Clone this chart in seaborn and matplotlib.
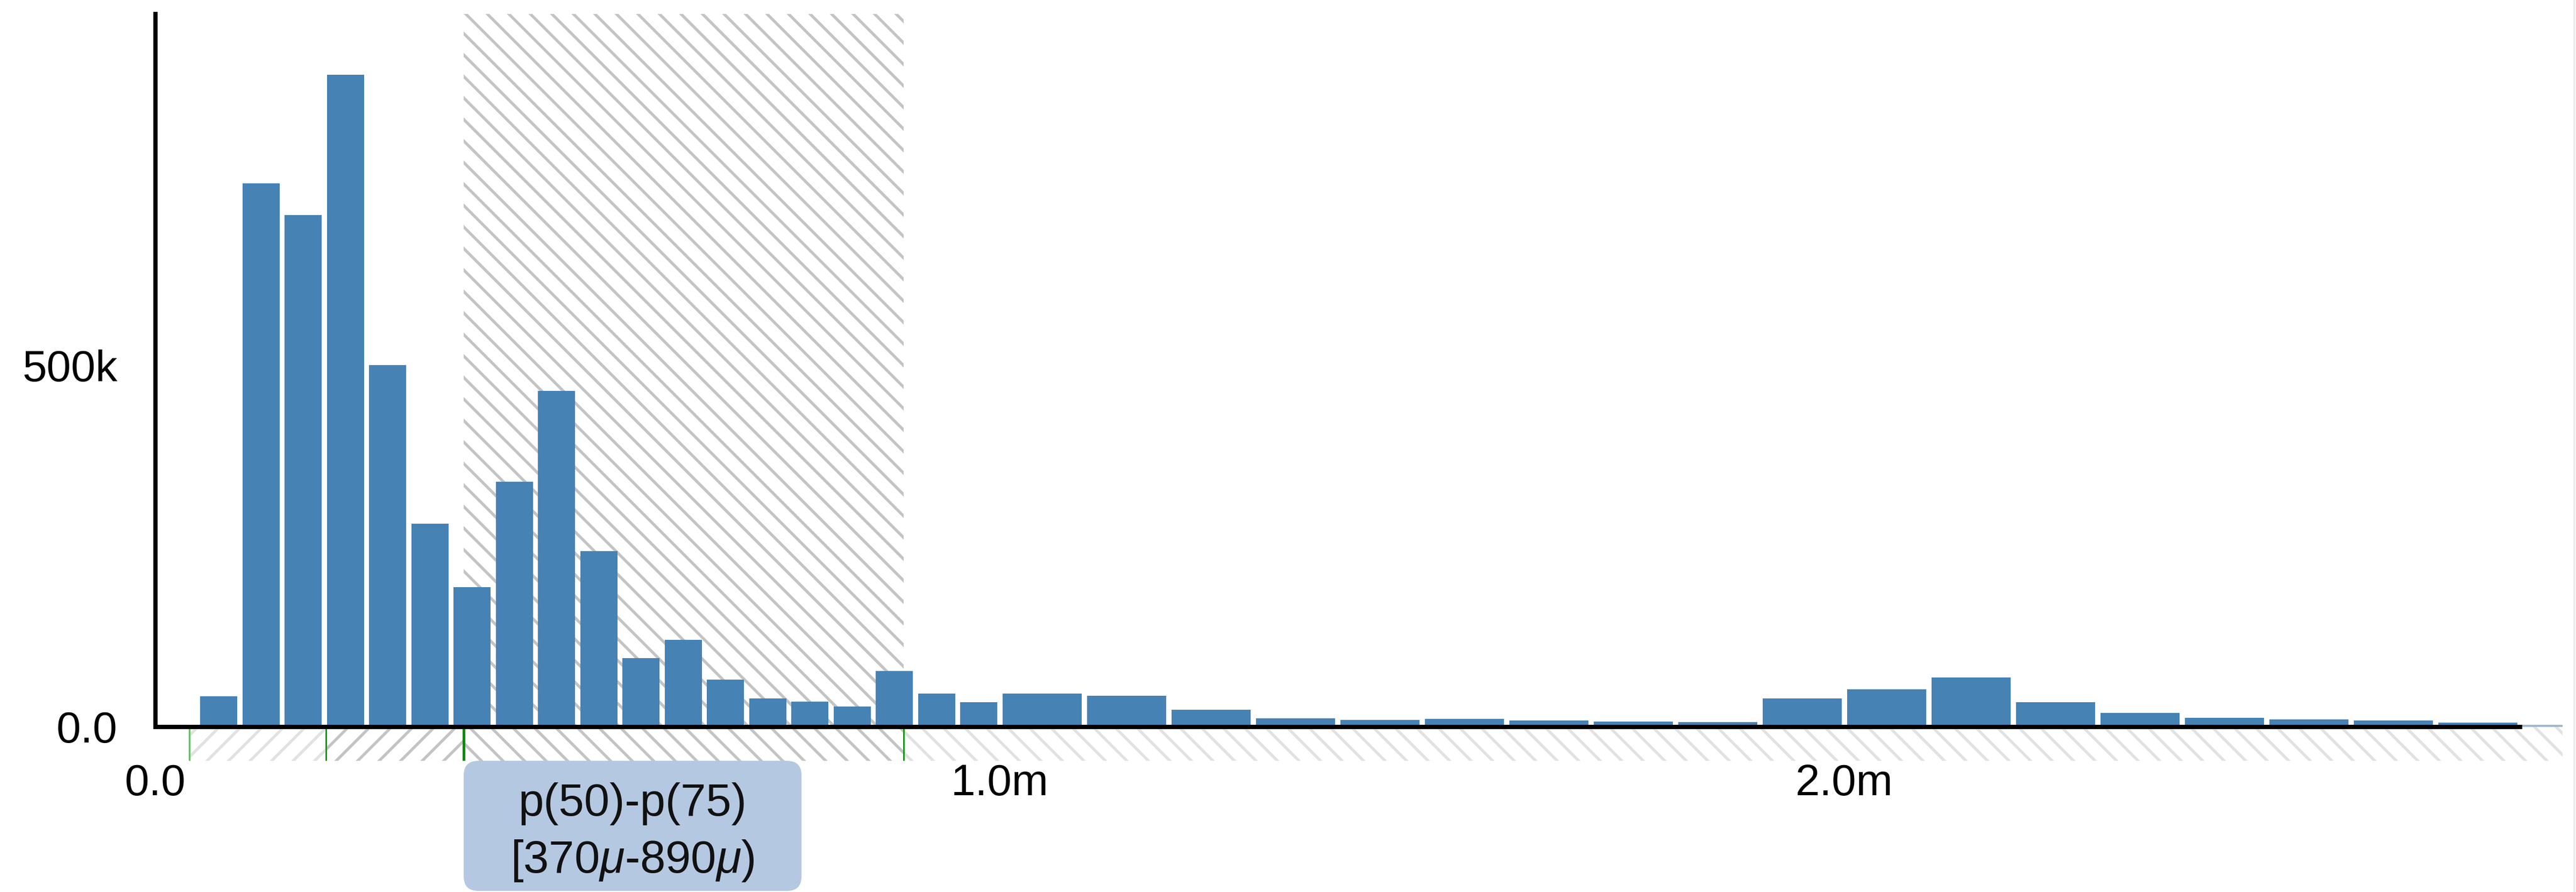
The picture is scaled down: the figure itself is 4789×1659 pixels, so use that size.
import numpy as np
import pandas as pd
import matplotlib
matplotlib.use("Agg")
import matplotlib.pyplot as plt
import seaborn as sns
from matplotlib.patches import FancyBboxPatch
from matplotlib.transforms import IdentityTransform
from matplotlib.lines import Line2D

# ---------------- data ----------------
fine_edges = [0.05, 0.10, 0.15, 0.20, 0.25, 0.30, 0.35, 0.40, 0.45, 0.50,
              0.55, 0.60, 0.65, 0.70, 0.75, 0.80, 0.85, 0.90, 0.95, 1.00]
fine_counts = [42000, 752000, 708000, 902000, 500000, 281000, 193000, 339000,
               465000, 243000, 95000, 120000, 65000, 39000, 35000, 28000,
               77000, 46000, 34000]
coarse_edges = [1.0, 1.1, 1.2, 1.3, 1.4, 1.5, 1.6, 1.7, 1.8, 1.9, 2.0,
                2.1, 2.2, 2.3, 2.4, 2.5, 2.6, 2.7, 2.8]
coarse_counts = [46000, 43000, 24000, 12000, 9500, 11000, 8700, 7000, 6300,
                 39000, 52000, 68000, 34000, 19000, 12700, 10300, 9000, 6000]
overflow_edges = [2.80, 2.85]
overflow_counts = [3000]

pct_positions = [0.040, 0.202, 0.365, 0.886]
band_lo, band_hi = 0.365, 0.886
band_label = "p(50)-p(75)"
band_range_label = r"[370$\mu$-890$\mu$)"

x_ticks = [0.0, 1.0, 2.0, 2.8]
x_tick_labels = ["0.0", "1.0m", "2.0m", ""]
y_ticks = [0, 500000, 986000]
y_tick_labels = ["0.0", "500k", ""]

# ---------------- style ----------------
sns.set_style("white")
plt.rcParams["font.family"] = ["Liberation Sans", "DejaVu Sans"]
plt.rcParams["mathtext.fontset"] = "custom"
plt.rcParams["mathtext.rm"] = "Liberation Sans"
plt.rcParams["mathtext.it"] = "Liberation Sans:italic"
plt.rcParams["hatch.linewidth"] = 1.6

DPI = 240
W, H = 4789, 1659
fig = plt.figure(figsize=(W / DPI, H / DPI), dpi=DPI)
fig.patch.set_facecolor("white")
ax = fig.add_axes([289 / W, 244 / H, 4474.5 / W, 1389 / H])
ax.set_facecolor("none")

XMAX = 2.85
YMIN, YMAX = -47000, 986000

BAR = "#4682b4"
HATCH_MID = "#c4c4c4"
HATCH_LIGHT = "#e2e2e2"

# hatched percentile band
ax.fill_between([band_lo, band_hi], 0, YMAX, facecolor="none",
                edgecolor=HATCH_MID, hatch="\\\\", linewidth=0, zorder=0.5)
# strip under the axis
strip_segments = [(pct_positions[0], pct_positions[1], "//", HATCH_LIGHT),
                  (pct_positions[1], pct_positions[2], "//", HATCH_MID),
                  (pct_positions[2], pct_positions[3], "\\\\", HATCH_MID),
                  (pct_positions[3], XMAX, "\\\\", HATCH_LIGHT)]
for lo, hi, h, c in strip_segments:
    ax.fill_between([lo, hi], YMIN, 0, facecolor="none", edgecolor=c,
                    hatch=h, linewidth=0, zorder=0.5)

# bars
GAP = 0.0058
def mids(edges):
    return [(a + b) / 2 for a, b in zip(edges[:-1], edges[1:])]

fine_df = pd.DataFrame({"t": mids(fine_edges), "n": fine_counts})
coarse_df = pd.DataFrame({"t": mids(coarse_edges), "n": coarse_counts})
over_df = pd.DataFrame({"t": mids(overflow_edges), "n": overflow_counts})

sns.histplot(data=fine_df, x="t", weights="n", bins=fine_edges,
             shrink=1 - GAP / 0.05, color=BAR, alpha=1, edgecolor="none",
             linewidth=0, ax=ax, zorder=2)
sns.histplot(data=coarse_df, x="t", weights="n", bins=coarse_edges,
             shrink=1 - GAP / 0.1, color=BAR, alpha=1, edgecolor="none",
             linewidth=0, ax=ax, zorder=2)
sns.histplot(data=over_df, x="t", weights="n", bins=overflow_edges,
             shrink=1, color=BAR, alpha=0.55, edgecolor="none",
             linewidth=0, ax=ax, zorder=2)

# percentile markers
ax.vlines(pct_positions, YMIN, 0,
          colors=["#62c062", "#179a17", "#0b8a0b", "#179a17"],
          linewidths=[0.9, 0.9, 1.5, 0.9], zorder=2.2)

ax.set_xlim(0, XMAX)
ax.set_ylim(YMIN, YMAX)
ax.set_xlabel("")
ax.set_ylabel("")

for s in ["top", "right"]:
    ax.spines[s].set_visible(False)
ax.spines["bottom"].set_position(("data", 0))
ax.spines["bottom"].set_bounds(0, 2.8)
ax.spines["left"].set_bounds(0, YMAX)
for s in ["bottom", "left"]:
    ax.spines[s].set_linewidth(2.4)
    ax.spines[s].set_color("black")
    ax.spines[s].set_zorder(3)

ax.set_xticks(x_ticks)
ax.set_xticklabels(x_tick_labels)
ax.set_yticks(y_ticks)
ax.set_yticklabels(y_tick_labels)
ax.tick_params(axis="both", direction="out", length=14.5, width=2.1,
               color="black", labelsize=24.5, labelcolor="black")
ax.tick_params(axis="x", pad=6.0)
ax.tick_params(axis="y", pad=6.5)

# label box under the band
fig.canvas.draw()
x0_px = ax.transData.transform((band_lo, 0))[0]
box_w, box_h = 628, 242
box_bottom = 2
box = FancyBboxPatch((x0_px, box_bottom), box_w, box_h,
                     boxstyle="round,pad=0,rounding_size=27",
                     facecolor="#b5c8e2", edgecolor="none",
                     transform=IdentityTransform(), zorder=5)
fig.add_artist(box)
cx = x0_px + box_w / 2
fig.text(cx, H - 1517, band_label, transform=IdentityTransform(),
         ha="center", va="baseline", fontsize=25.5, color="#111111", zorder=6)
fig.text(cx, H - 1623, band_range_label, transform=IdentityTransform(),
         ha="center", va="baseline", fontsize=25.5, color="#111111", zorder=6)

# faint right border
fig.add_artist(Line2D([0.9993, 0.9993], [0, 1], transform=fig.transFigure,
                      color="#ececec", linewidth=1.2))

fig.savefig("out.png", dpi=DPI, facecolor="white")
